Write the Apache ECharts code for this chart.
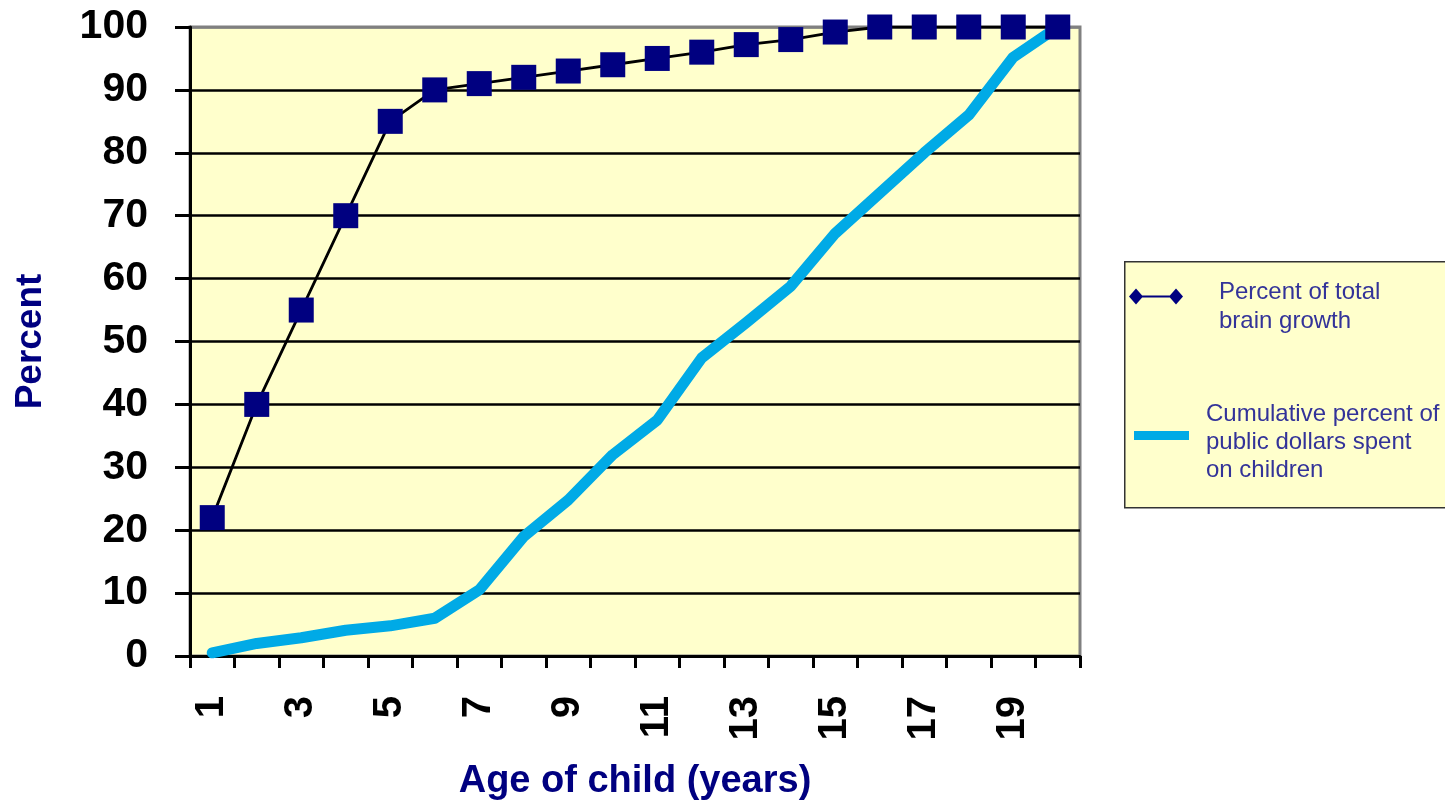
<!DOCTYPE html>
<html>
<head>
<meta charset="utf-8">
<script src="https://cdn.jsdelivr.net/npm/echarts@6/dist/echarts.min.js"></script>
<style>
html,body{margin:0;padding:0;background:#fff;}
#chart{width:1445px;height:802px;}
</style>
</head>
<body>
<div id="chart"></div>
<script>
const ages = ['1','2','3','4','5','6','7','8','9','10','11','12','13','14','15','16','17','18','19','20'];
const brainGrowth = [22, 40, 55, 70, 85, 90, 91, 92, 93, 94, 95, 96, 97.2, 98, 99.2, 100, 100, 100, 100, 100];
const publicDollars = [0.5, 2, 2.9, 4.1, 4.8, 6, 10.5, 19, 24.8, 32, 37.5, 47.4, 53, 58.8, 67.2, 73.6, 80, 86, 95.2, 100];
const seriesNames = ['Percent of total\nbrain growth', 'Cumulative percent of\npublic dollars spent\non children'];

const FONT = 'Liberation Sans, Arial, sans-serif';
function richLegend(name) {
  return '{s| }\n' + name.split('\n').map(function (l) { return '{a|' + l + '}'; }).join('\n');
}

const chart = echarts.init(document.getElementById('chart'));
const splitColors = ['#000','#000','#000','#000','#000','#000','#000','#000','#000','#000','#808080'];
chart.setOption({
  backgroundColor: '#ffffff',
  animation: false,
  graphic: [{
    type: 'rect', left: 1124, top: 261, z: 0,
    shape: {width: 330, height: 246},
    style: {fill: '#FFFFCC', stroke: '#333333', lineWidth: 1.5}
  }],
  legend: [{
    data: [seriesNames[0]],
    left: 1129, top: 267, padding: 0,
    itemWidth: 54, itemHeight: 16,
    icon: 'path://M0,7 L7,0 L14,7 L7,14 Z M13,6.2 L41,6.2 L41,7.8 L13,7.8 Z M40,7 L47,0 L54,7 L47,14 Z',
    symbolKeepAspect: false,
    formatter: richLegend,
    textStyle: {
      color: '#333399', fontSize: 24, fontFamily: FONT, padding: [0, 0, 0, 31],
      rich: {
        s: {fontSize: 1, lineHeight: 21},
        a: {color: '#333399', fontSize: 24, fontFamily: FONT, lineHeight: 29}
      }
    },
    z: 5
  }, {
    data: [seriesNames[1]],
    left: 1134, top: 393, padding: 0,
    itemWidth: 55, itemHeight: 9,
    icon: 'rect',
    formatter: richLegend,
    textStyle: {
      color: '#333399', fontSize: 24, fontFamily: FONT, padding: [0, 0, 0, 12],
      rich: {
        s: {fontSize: 1, lineHeight: 14},
        a: {color: '#333399', fontSize: 24, fontFamily: FONT, lineHeight: 28}
      }
    },
    z: 5
  }],
  grid: {
    left: 190, right: 365, top: 27, bottom: 146,
    outerBoundsMode: 'none', containLabel: false,
    show: true, backgroundColor: '#FFFFCC', borderColor: '#808080', borderWidth: 3
  },
  xAxis: {
    type: 'category',
    data: ages,
    boundaryGap: true,
    name: 'Age of child (years)',
    nameLocation: 'middle',
    nameGap: 107,
    nameTextStyle: {color: '#000080', fontSize: 38, fontWeight: 'bold', fontFamily: FONT},
    axisLine: {lineStyle: {color: '#000', width: 3}},
    axisTick: {show: true, length: 12, lineStyle: {color: '#000', width: 3}, interval: 0},
    axisLabel: {interval: 1, rotate: 90, margin: 40, color: '#000', fontSize: 40, fontWeight: 'bold', fontFamily: FONT},
    splitLine: {show: false}
  },
  yAxis: {
    type: 'value',
    min: 0, max: 100, interval: 10,
    name: 'Percent',
    nameLocation: 'middle',
    nameGap: 141,
    nameRotate: 90,
    nameTextStyle: {color: '#000080', fontSize: 37, fontWeight: 'bold', fontFamily: FONT},
    axisLine: {show: true, lineStyle: {color: '#000', width: 3}},
    axisTick: {show: true, length: 15, lineStyle: {color: '#000', width: 3}},
    axisLabel: {margin: 42, color: '#000', fontSize: 41, fontWeight: 'bold', fontFamily: FONT},
    splitLine: {show: true, lineStyle: {color: splitColors, width: 2.5}}
  },
  series: [{
    name: seriesNames[1],
    type: 'line',
    data: publicDollars,
    symbol: 'none',
    color: '#00AAE6',
    lineStyle: {color: '#00AAE6', width: 11, cap: 'round', join: 'round'},
    z: 3
  }, {
    name: seriesNames[0],
    type: 'line',
    data: brainGrowth,
    symbol: 'rect',
    symbolSize: 25,
    color: '#000080',
    itemStyle: {color: '#000080'},
    lineStyle: {color: '#000', width: 2.8},
    z: 4
  }]
});
</script>
</body>
</html>
